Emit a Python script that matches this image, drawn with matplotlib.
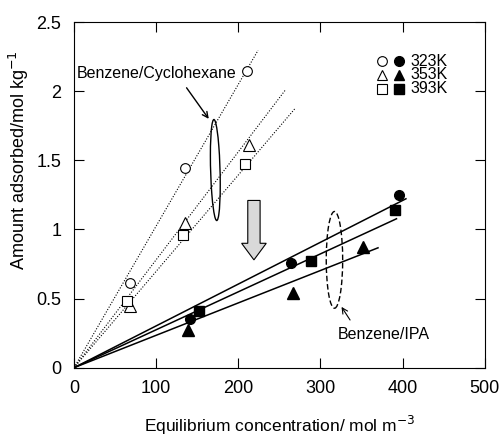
import numpy as np
import matplotlib.pyplot as plt
from matplotlib.patches import Ellipse, FancyArrow

plt.rcParams['font.family'] = ['Liberation Sans', 'DejaVu Sans']

# Benzene/Cyclohexane (open symbols)
cyc_x_323 = [68, 135, 210]
cyc_y_323 = [0.61, 1.445, 2.145]
cyc_x_353 = [68, 135, 213]
cyc_y_353 = [0.447, 1.046, 1.614]
cyc_x_393 = [64, 133, 208]
cyc_y_393 = [0.486, 0.96, 1.474]
cyc_slopes = [0.01025, 0.00781, 0.00697]
cyc_xend = [224, 257, 269]

# Benzene/IPA (filled symbols)
ipa_x_323 = [141, 264, 396]
ipa_y_323 = [0.35, 0.757, 1.246]
ipa_x_353 = [139, 266, 352]
ipa_y_353 = [0.273, 0.539, 0.87]
ipa_x_393 = [152, 289, 391]
ipa_y_393 = [0.41, 0.775, 1.143]
ipa_slopes = [0.003025, 0.002745, 0.002344]
ipa_xend = [404, 392.5, 370]

fig = plt.figure(figsize=(5.01, 4.38), dpi=100)
ax = fig.add_axes([0.1477, 0.1605, 0.82, 0.789])

# fitted lines through the origin
for s, xe in zip(cyc_slopes, cyc_xend):
    ax.plot([0, xe], [0, s * xe], color='black', linestyle=(0, (1, 1.5)), linewidth=0.8)
for s, xe in zip(ipa_slopes, ipa_xend):
    ax.plot([0, xe], [0, s * xe], color='black', linewidth=1.1)

ms = 7
ax.plot(cyc_x_323, cyc_y_323, 'o', mfc='white', mec='black', ms=ms, mew=0.8)
ax.plot(cyc_x_353, cyc_y_353, '^', mfc='white', mec='black', ms=ms + 1, mew=0.8)
ax.plot(cyc_x_393, cyc_y_393, 's', mfc='white', mec='black', ms=ms, mew=0.8)
ax.plot(ipa_x_323, ipa_y_323, 'o', color='black', ms=ms)
ax.plot(ipa_x_353, ipa_y_353, '^', color='black', ms=ms + 1)
ax.plot(ipa_x_393, ipa_y_393, 's', color='black', ms=ms)

# ellipses grouping the lines
ax.add_patch(Ellipse((172, 1.43), 12, 0.7, angle=-1, fill=False, color='black', linewidth=1))
ax.add_patch(Ellipse((317, 0.78), 20, 0.7, fill=False, color='black', linewidth=1,
                     linestyle=(0, (4, 2))))

# big grey arrow
ax.add_patch(FancyArrow(219, 1.21, 0, -0.43, width=15, head_width=30, head_length=0.12,
                        length_includes_head=True, facecolor='#d9d9d9', edgecolor='black', linewidth=0.8))

# labels with pointer arrows
ax.text(100.5, 2.13, 'Benzene/Cyclohexane', ha='center', va='center', fontsize=11.5)
ax.annotate('', xy=(164, 1.8), xytext=(137, 2.025),
            arrowprops=dict(arrowstyle='->', color='black', linewidth=1, shrinkA=0, shrinkB=0))
ax.text(321, 0.237, 'Benzene/IPA', ha='left', va='center', fontsize=11.5)
ax.annotate('', xy=(325.6, 0.44), xytext=(336, 0.345),
            arrowprops=dict(arrowstyle='->', color='black', linewidth=0.8, shrinkA=0, shrinkB=0))

# legend drawn as symbols + text
leg_labels = ['323K', '353K', '393K']
leg_markers = ['o', '^', 's']
leg_y = [2.218, 2.12, 2.017]
for lab, m, yy in zip(leg_labels, leg_markers, leg_y):
    ax.plot(375, yy, m, mfc='white', mec='black', ms=ms, mew=0.8)
    ax.plot(396, yy, m, color='black', ms=ms)
    ax.text(409, yy, lab, va='center', ha='left', fontsize=11.5)

ax.set_xlim(0, 500)
ax.set_ylim(0, 2.5)
ax.set_xticks([0, 100, 200, 300, 400, 500])
ax.set_yticks([0, 0.5, 1, 1.5, 2, 2.5])
ax.set_yticklabels(['0', '0.5', '1', '1.5', '2', '2.5'])
ax.tick_params(direction='in', top=True, right=True, length=7, labelsize=13, pad=9)
ax.set_xlabel('Equilibrium concentration/ mol m$^{-3}$', fontsize=12.5, labelpad=12)
ax.set_ylabel('Amount adsorbed/mol kg$^{-1}$', fontsize=13)
ax.yaxis.set_label_coords(-0.105, 0.6)

fig.savefig('out.png', dpi=100)
